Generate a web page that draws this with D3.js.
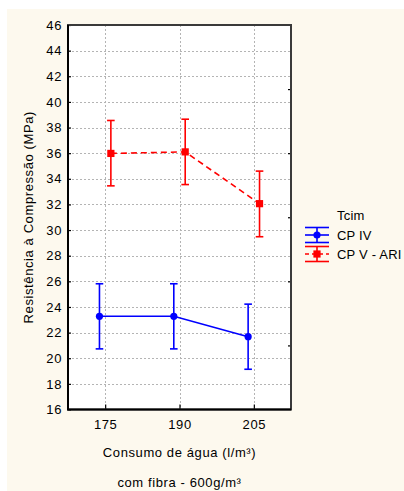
<!DOCTYPE html>
<html>
<head>
<meta charset="utf-8">
<script src="https://cdn.jsdelivr.net/npm/d3@7"></script>
<style>
  html, body { margin: 0; padding: 0; background: #ffffff; }
  svg { display: block; }
  text { font-family: "Liberation Sans", Arial, sans-serif; fill: #000; letter-spacing: 0.6px; }
  .legend text { letter-spacing: 0.2px; }
</style>
</head>
<body>
<svg id="chart" width="404" height="491"></svg>
<script>
// Water consumption levels (l/m³)
const categories = ["175", "190", "205"];
// Cement types
const seriesNames = ["CP IV", "CP V - ARI"];
// Mean compressive strength (MPa) per cement type
const meanCPIV = [23.27, 23.27, 21.68];
const meanCPV = [35.98, 36.10, 32.06];
// Confidence interval limits (MPa)
const lowCPIV = [20.73, 20.73, 19.14];
const highCPIV = [25.81, 25.81, 24.22];
const lowCPV = [33.45, 33.55, 29.48];
const highCPV = [38.55, 38.65, 34.60];
// Axis ticks
const yTicks = [16, 18, 20, 22, 24, 26, 28, 30, 32, 34, 36, 38, 40, 42, 44, 46];
const yRightTicks = [21, 26, 31, 36, 41];

const series = [
  { name: seriesNames[0], mean: meanCPIV, low: lowCPIV, high: highCPIV,
    color: "#0000ff", dash: null, shape: "circle", offset: -5.7 },
  { name: seriesNames[1], mean: meanCPV, low: lowCPV, high: highCPV,
    color: "#ff0000", dash: "6,4", shape: "square", offset: 5.7 }
];

const svg = d3.select("#chart");
const W = 404, H = 491;
const plot = { left: 68, right: 291, top: 25, bottom: 409.5 };
const FS = 13;

// page background
svg.append("rect").attr("x", 7).attr("y", 9).attr("width", W - 7).attr("height", H - 9)
  .attr("fill", "#fdf9ee");
svg.append("rect").attr("x", plot.left).attr("y", plot.top)
  .attr("width", plot.right - plot.left).attr("height", plot.bottom - plot.top)
  .attr("fill", "#ffffff");

const x = d3.scalePoint().domain(categories).range([plot.left, plot.right]).padding(0.5);
const y = d3.scaleLinear().domain([16, 46]).range([plot.bottom, plot.top]);

// grid
const grid = svg.append("g").attr("stroke", "#b4b4b4").attr("stroke-width", 1)
  .attr("stroke-dasharray", "2,2");
grid.selectAll("line.h").data(yTicks.slice(1, -1)).join("line").attr("class", "h")
  .attr("x1", plot.left).attr("x2", plot.right)
  .attr("y1", d => Math.round(y(d)) + 0.5).attr("y2", d => Math.round(y(d)) + 0.5);
grid.selectAll("line.v").data(categories).join("line").attr("class", "v")
  .attr("y1", plot.top).attr("y2", plot.bottom)
  .attr("x1", d => Math.round(x(d)) + 0.5).attr("x2", d => Math.round(x(d)) + 0.5);

// axes
const yAxis = svg.append("g").attr("transform", `translate(${plot.left},0)`)
  .call(d3.axisLeft(y).tickValues(yTicks).tickSizeInner(-3).tickSizeOuter(0).tickPadding(6));
const xAxis = svg.append("g").attr("transform", `translate(0,${plot.bottom})`)
  .call(d3.axisBottom(x).tickSizeInner(-5).tickSizeOuter(0).tickPadding(10));
const rAxis = svg.append("g").attr("transform", `translate(${plot.right},0)`)
  .call(d3.axisRight(y).tickValues(yRightTicks).tickSizeInner(-3).tickSizeOuter(0)
    .tickFormat(() => ""));
[yAxis, xAxis, rAxis].forEach(g => {
  g.select(".domain").remove();
  g.selectAll(".tick line").attr("stroke", "#000").attr("stroke-width", 1.2);
  g.selectAll(".tick text").attr("font-size", FS).attr("fill", "#000")
    .style("font-family", "'Liberation Sans', Arial, sans-serif");
});

// frame
svg.append("rect").attr("x", plot.left).attr("y", plot.top)
  .attr("width", plot.right - plot.left).attr("height", plot.bottom - plot.top)
  .attr("fill", "none").attr("stroke", "#3a3a3a").attr("stroke-width", 2);
svg.append("path")
  .attr("d", `M${plot.left},${plot.top}V${plot.bottom}H${plot.right}`)
  .attr("fill", "none").attr("stroke", "#000").attr("stroke-width", 2);

// series: connecting lines, error bars, markers
const line = d3.line();
series.forEach(s => {
  const g = svg.append("g");
  const pts = categories.map((c, i) => [x(c) + s.offset, y(s.mean[i])]);
  g.append("path").attr("d", line(pts)).attr("fill", "none")
    .attr("stroke", s.color).attr("stroke-width", 1.6)
    .attr("stroke-dasharray", s.dash);
  categories.forEach((c, i) => {
    const cx = x(c) + s.offset;
    g.append("line").attr("x1", cx).attr("x2", cx)
      .attr("y1", y(s.low[i])).attr("y2", y(s.high[i]))
      .attr("stroke", s.color).attr("stroke-width", 1.6);
    [s.low[i], s.high[i]].forEach(v => {
      g.append("line").attr("x1", cx - 3.8).attr("x2", cx + 3.8)
        .attr("y1", y(v)).attr("y2", y(v))
        .attr("stroke", s.color).attr("stroke-width", 1.6);
    });
    if (s.shape === "circle") {
      g.append("circle").attr("cx", cx).attr("cy", y(s.mean[i])).attr("r", 3.6)
        .attr("fill", s.color);
    } else {
      g.append("rect").attr("x", cx - 3.6).attr("y", y(s.mean[i]) - 3.6)
        .attr("width", 7.2).attr("height", 7.2).attr("fill", s.color);
    }
  });
});

// axis titles
svg.append("text").attr("transform", `translate(33,${(plot.top + plot.bottom) / 2}) rotate(-90)`)
  .attr("text-anchor", "middle").attr("font-size", FS)
  .text("Resistência à Compressão (MPa)");
svg.append("text").attr("x", (plot.left + plot.right) / 2).attr("y", 456.5)
  .attr("text-anchor", "middle").attr("font-size", FS)
  .text("Consumo de água (l/m³)");
svg.append("text").attr("x", (plot.left + plot.right) / 2).attr("y", 487)
  .attr("text-anchor", "middle").attr("font-size", FS)
  .text("com fibra - 600g/m³");

// legend
const legend = svg.append("g").attr("class", "legend");
legend.append("text").attr("x", 337).attr("y", 219.5).attr("font-size", FS).text("Tcim");
series.forEach((s, i) => {
  const cy = 235 + i * 19;
  const g = legend.append("g");
  [-7.5, 7.5].forEach(dy => {
    g.append("line").attr("x1", 305).attr("x2", 329).attr("y1", cy + dy).attr("y2", cy + dy)
      .attr("stroke", s.color).attr("stroke-width", 1.6);
  });
  g.append("line").attr("x1", 305).attr("x2", 329).attr("y1", cy).attr("y2", cy)
    .attr("stroke", s.color).attr("stroke-width", 1.6).attr("stroke-dasharray", s.dash ? "4,3" : null);
  g.append("line").attr("x1", 317).attr("x2", 317).attr("y1", cy - 7.5).attr("y2", cy + 7.5)
    .attr("stroke", s.color).attr("stroke-width", 1.6);
  if (s.shape === "circle") {
    g.append("circle").attr("cx", 317).attr("cy", cy).attr("r", 3.6).attr("fill", s.color);
  } else {
    g.append("rect").attr("x", 313.4).attr("y", cy - 3.6).attr("width", 7.2).attr("height", 7.2)
      .attr("fill", s.color);
  }
  g.append("text").attr("x", 337).attr("y", cy + 4.5).attr("font-size", FS).text(s.name);
});
</script>
</body>
</html>
